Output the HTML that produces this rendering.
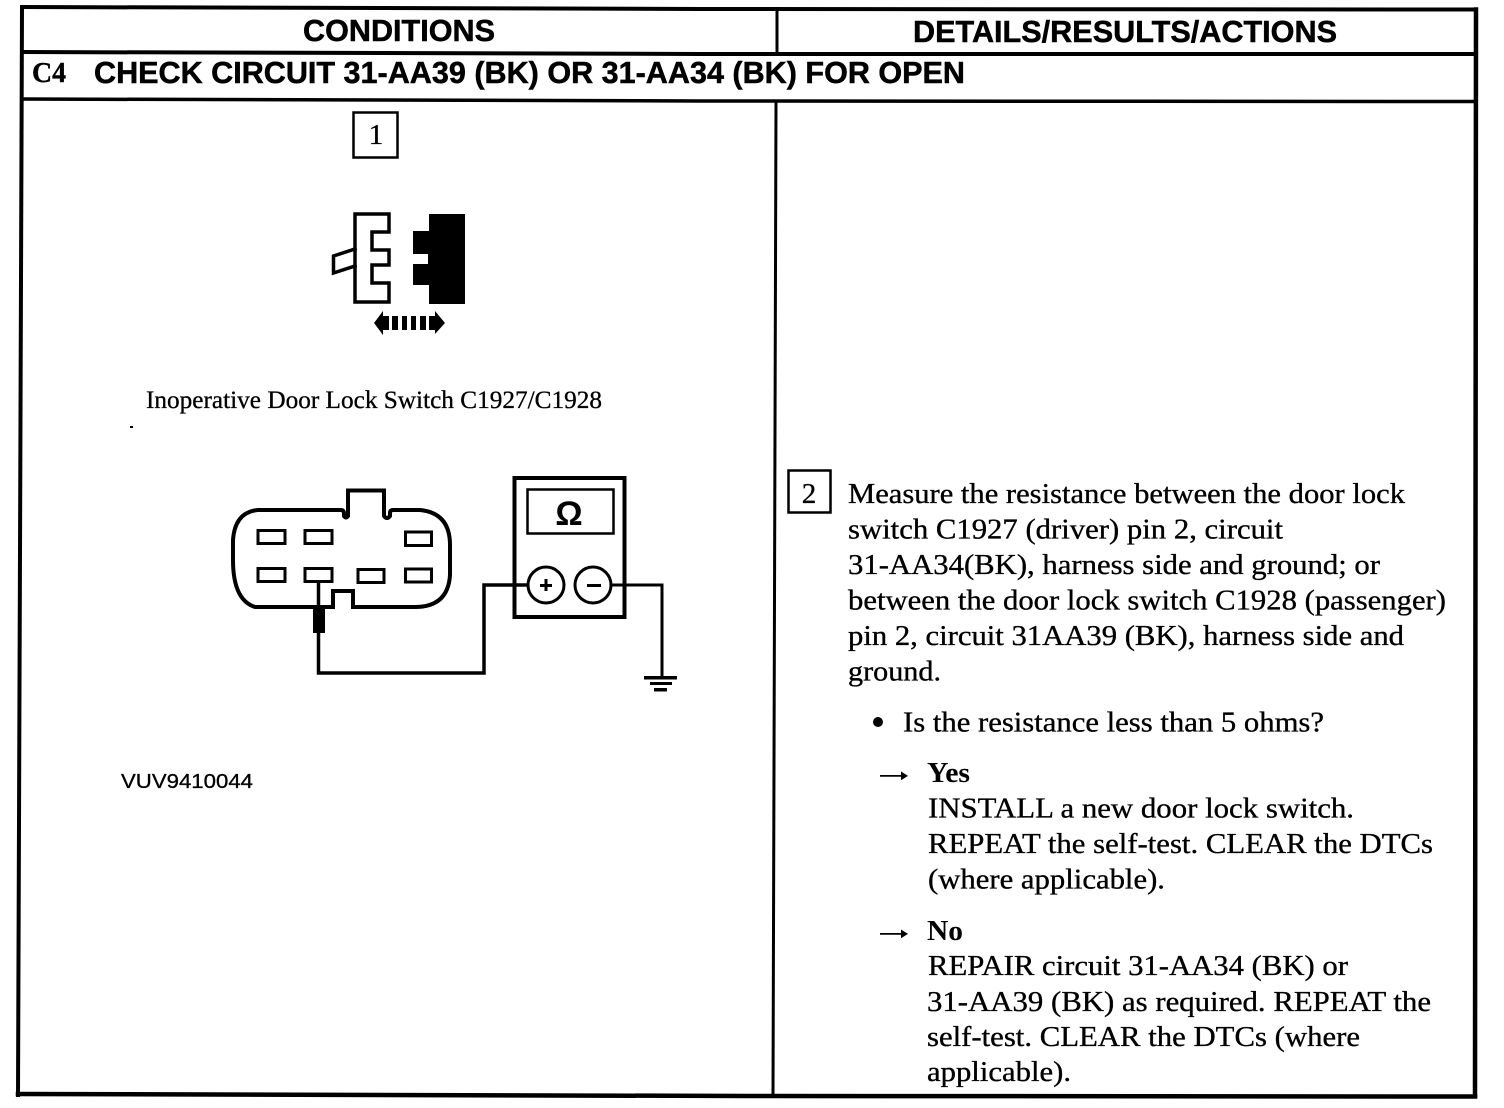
<!DOCTYPE html>
<html lang="en">
<head>
<meta charset="utf-8">
<title>C4 Check Circuit</title>
<style>
html,body{margin:0;padding:0;background:#fff;width:1504px;height:1108px;overflow:hidden}
svg{display:block}
.s{font-family:"Liberation Serif",serif;font-size:29px;fill:#000;stroke:#000;stroke-width:.35px}
.b{font-family:"Liberation Serif",serif;font-size:29px;font-weight:bold;fill:#000}
.h{font-family:"Liberation Sans",sans-serif;font-size:31px;font-weight:bold;fill:#000;stroke:#000;stroke-width:.5px}
.l{fill:none;stroke:#000;stroke-linejoin:miter;stroke-linecap:square}
</style>
</head>
<body>
<svg xmlns="http://www.w3.org/2000/svg" width="1504" height="1108" viewBox="0 0 1504 1108">
<rect width="1504" height="1108" fill="#fff"/>

<!-- Table frame -->
<path class="l" stroke-width="4" d="M22,7 L700,9 L1476,9.5"/>
<path class="l" stroke-width="4" d="M22,7 L18,1095"/>
<path class="l" stroke-width="4.5" d="M1476,9.5 L1475,1096"/>
<path class="l" stroke-width="4.5" d="M18,1094 L750,1096 L1475,1096.5"/>
<path class="l" stroke-width="4" d="M22,52 L700,54 L1476,54"/>
<path class="l" stroke-width="3.5" d="M22,99 L700,101 L1476,101.5"/>
<path class="l" stroke-width="3" d="M777,10 V53"/>
<path class="l" stroke-width="3" d="M776,102 L773,1095"/>

<!-- Headers -->
<text class="h" x="303" y="41" textLength="192" lengthAdjust="spacingAndGlyphs">CONDITIONS</text>
<text class="h" x="913" y="42" textLength="424" lengthAdjust="spacingAndGlyphs">DETAILS/RESULTS/ACTIONS</text>
<text x="32" y="82" textLength="34" lengthAdjust="spacingAndGlyphs" font-family="'Liberation Serif',serif" font-size="29" font-weight="bold" stroke="#000" stroke-width=".4">C4</text>
<text class="h" x="94" y="83" textLength="871" lengthAdjust="spacingAndGlyphs">CHECK CIRCUIT 31-AA39 (BK) OR 31-AA34 (BK) FOR OPEN</text>

<!-- Step 1 -->
<rect class="l" x="353.500" y="112.500" width="44" height="45" stroke-width="2.500"/>
<text class="s" x="376" y="144" text-anchor="middle">1</text>

<!-- Small connector -->
<path class="l" stroke-width="3.500" stroke-linejoin="round" d="M355,214 H389 V232 H372 V250 H389 V265 H372 V283 H389 V302 H355 Z"/>
<path class="l" stroke-width="3.500" d="M355,249 L333.500,256 V273 L355,266"/>
<path fill="#000" d="M429,214 H465 V304 H429 V285 H413 V264 H428 V254 H413 V231 H429 Z"/>
<path fill="#000" d="M374,323 L383,311 V316 H389 V330 H383 V335 Z"/>
<path fill="#000" d="M392,316h6v14h-6zM402,316h5v14h-5zM411,316h5v14h-5zM420,316h6v14h-6zM429,316h6v-5l10,12-10,11v-4h-6z"/>

<text x="146" y="408" textLength="456" lengthAdjust="spacingAndGlyphs" font-family="'Liberation Serif',serif" font-size="25" stroke="#000" stroke-width=".3">Inoperative Door Lock Switch C1927/C1928</text>
<rect x="130" y="426" width="3" height="2" fill="#000"/>

<!-- Large connector -->
<path class="l" stroke-width="4" stroke-linejoin="round" d="M258,510 H341 Q344,510 344,514 V516 Q346,519 348,516 V490.500 H384 V516 Q387,520 390,516 V513 Q390,510 393,510 H420 Q450,513 450,545 V575 Q448,607 415,607 H353 V591 H333 V607 H255 Q233,600 233,560 V540 Q235,512 258,510 Z"/>
<g class="l" stroke-width="3">
<rect x="258" y="530.500" width="27" height="13"/>
<rect x="305" y="530.500" width="27" height="13"/>
<rect x="405.500" y="532" width="26" height="13.500"/>
<rect x="258" y="568.500" width="27" height="13"/>
<rect x="305" y="568.500" width="27" height="13"/>
<rect x="358" y="569.500" width="26" height="13"/>
<rect x="405.500" y="569" width="26" height="13"/>
</g>
<path class="l" stroke-width="3.500" d="M318.500,583 V608"/>
<rect x="313" y="607" width="12" height="26" fill="#000"/>
<path class="l" stroke-width="3.500" d="M318.500,632 V673 H484 V585 H528"/>

<!-- Meter -->
<rect class="l" x="514.500" y="478" width="110" height="139" stroke-width="4"/>
<rect class="l" x="527.500" y="489.500" width="86" height="44" stroke-width="2.500"/>
<text x="569" y="525" text-anchor="middle" font-family="'Liberation Sans',sans-serif" font-size="34" font-weight="bold" fill="#000">Ω</text>
<circle cx="546" cy="585" r="18" fill="#fff" stroke="#000" stroke-width="3"/>
<circle cx="593" cy="585" r="18" fill="#fff" stroke="#000" stroke-width="3"/>
<path fill="#000" d="M540,584h12v3h-12zM544.500,579h3v12h-3zM587,584h14v3h-14z"/>
<path class="l" stroke-width="3" d="M611,585 H662 V676"/>
<path fill="#000" d="M644,676h33v3.500h-33zM650,682h22v3h-22zM654,688h13v3.500h-13z"/>

<text x="121" y="788" textLength="132" lengthAdjust="spacingAndGlyphs" font-family="'Liberation Sans',sans-serif" font-size="20" fill="#000" stroke="#000" stroke-width=".3">VUV9410044</text>

<!-- Step 2 -->
<rect class="l" x="788.500" y="470.500" width="42" height="42" stroke-width="2.500"/>
<text class="s" x="809" y="503" text-anchor="middle">2</text>

<text class="s" x="848" y="503" textLength="557" lengthAdjust="spacingAndGlyphs">Measure the resistance between the door lock</text>
<text class="s" x="848" y="538.500" textLength="435" lengthAdjust="spacingAndGlyphs">switch C1927 (driver) pin 2, circuit</text>
<text class="s" x="848" y="574" textLength="532" lengthAdjust="spacingAndGlyphs">31-AA34(BK), harness side and ground; or</text>
<text class="s" x="848" y="609.500" textLength="598" lengthAdjust="spacingAndGlyphs">between the door lock switch C1928 (passenger)</text>
<text class="s" x="848" y="645" textLength="556" lengthAdjust="spacingAndGlyphs">pin 2, circuit 31AA39 (BK), harness side and</text>
<text class="s" x="848" y="680.500" textLength="93" lengthAdjust="spacingAndGlyphs">ground.</text>

<circle cx="878" cy="722" r="5" fill="#000"/>
<text class="s" x="903" y="731.500" textLength="421" lengthAdjust="spacingAndGlyphs">Is the resistance less than 5 ohms?</text>

<path fill="#000" d="M880,775h22v1.800h-22zM901,771.500l7,4.400-7,4.400z"/>
<text class="b" x="927" y="782" textLength="43" lengthAdjust="spacingAndGlyphs">Yes</text>
<text class="s" x="928" y="817.500" textLength="426" lengthAdjust="spacingAndGlyphs">INSTALL a new door lock switch.</text>
<text class="s" x="928" y="853" textLength="505" lengthAdjust="spacingAndGlyphs">REPEAT the self-test. CLEAR the DTCs</text>
<text class="s" x="928" y="888.500" textLength="237" lengthAdjust="spacingAndGlyphs">(where applicable).</text>

<path fill="#000" d="M880,933h22v1.800h-22zM901,929.500l7,4.400-7,4.400z"/>
<text class="b" x="927" y="940" textLength="36" lengthAdjust="spacingAndGlyphs">No</text>
<text class="s" x="928" y="975" textLength="420" lengthAdjust="spacingAndGlyphs">REPAIR circuit 31-AA34 (BK) or</text>
<text class="s" x="927" y="1011" textLength="504" lengthAdjust="spacingAndGlyphs">31-AA39 (BK) as required. REPEAT the</text>
<text class="s" x="927" y="1046" textLength="433" lengthAdjust="spacingAndGlyphs">self-test. CLEAR the DTCs (where</text>
<text class="s" x="927" y="1081" textLength="144" lengthAdjust="spacingAndGlyphs">applicable).</text>
</svg>
</body>
</html>
